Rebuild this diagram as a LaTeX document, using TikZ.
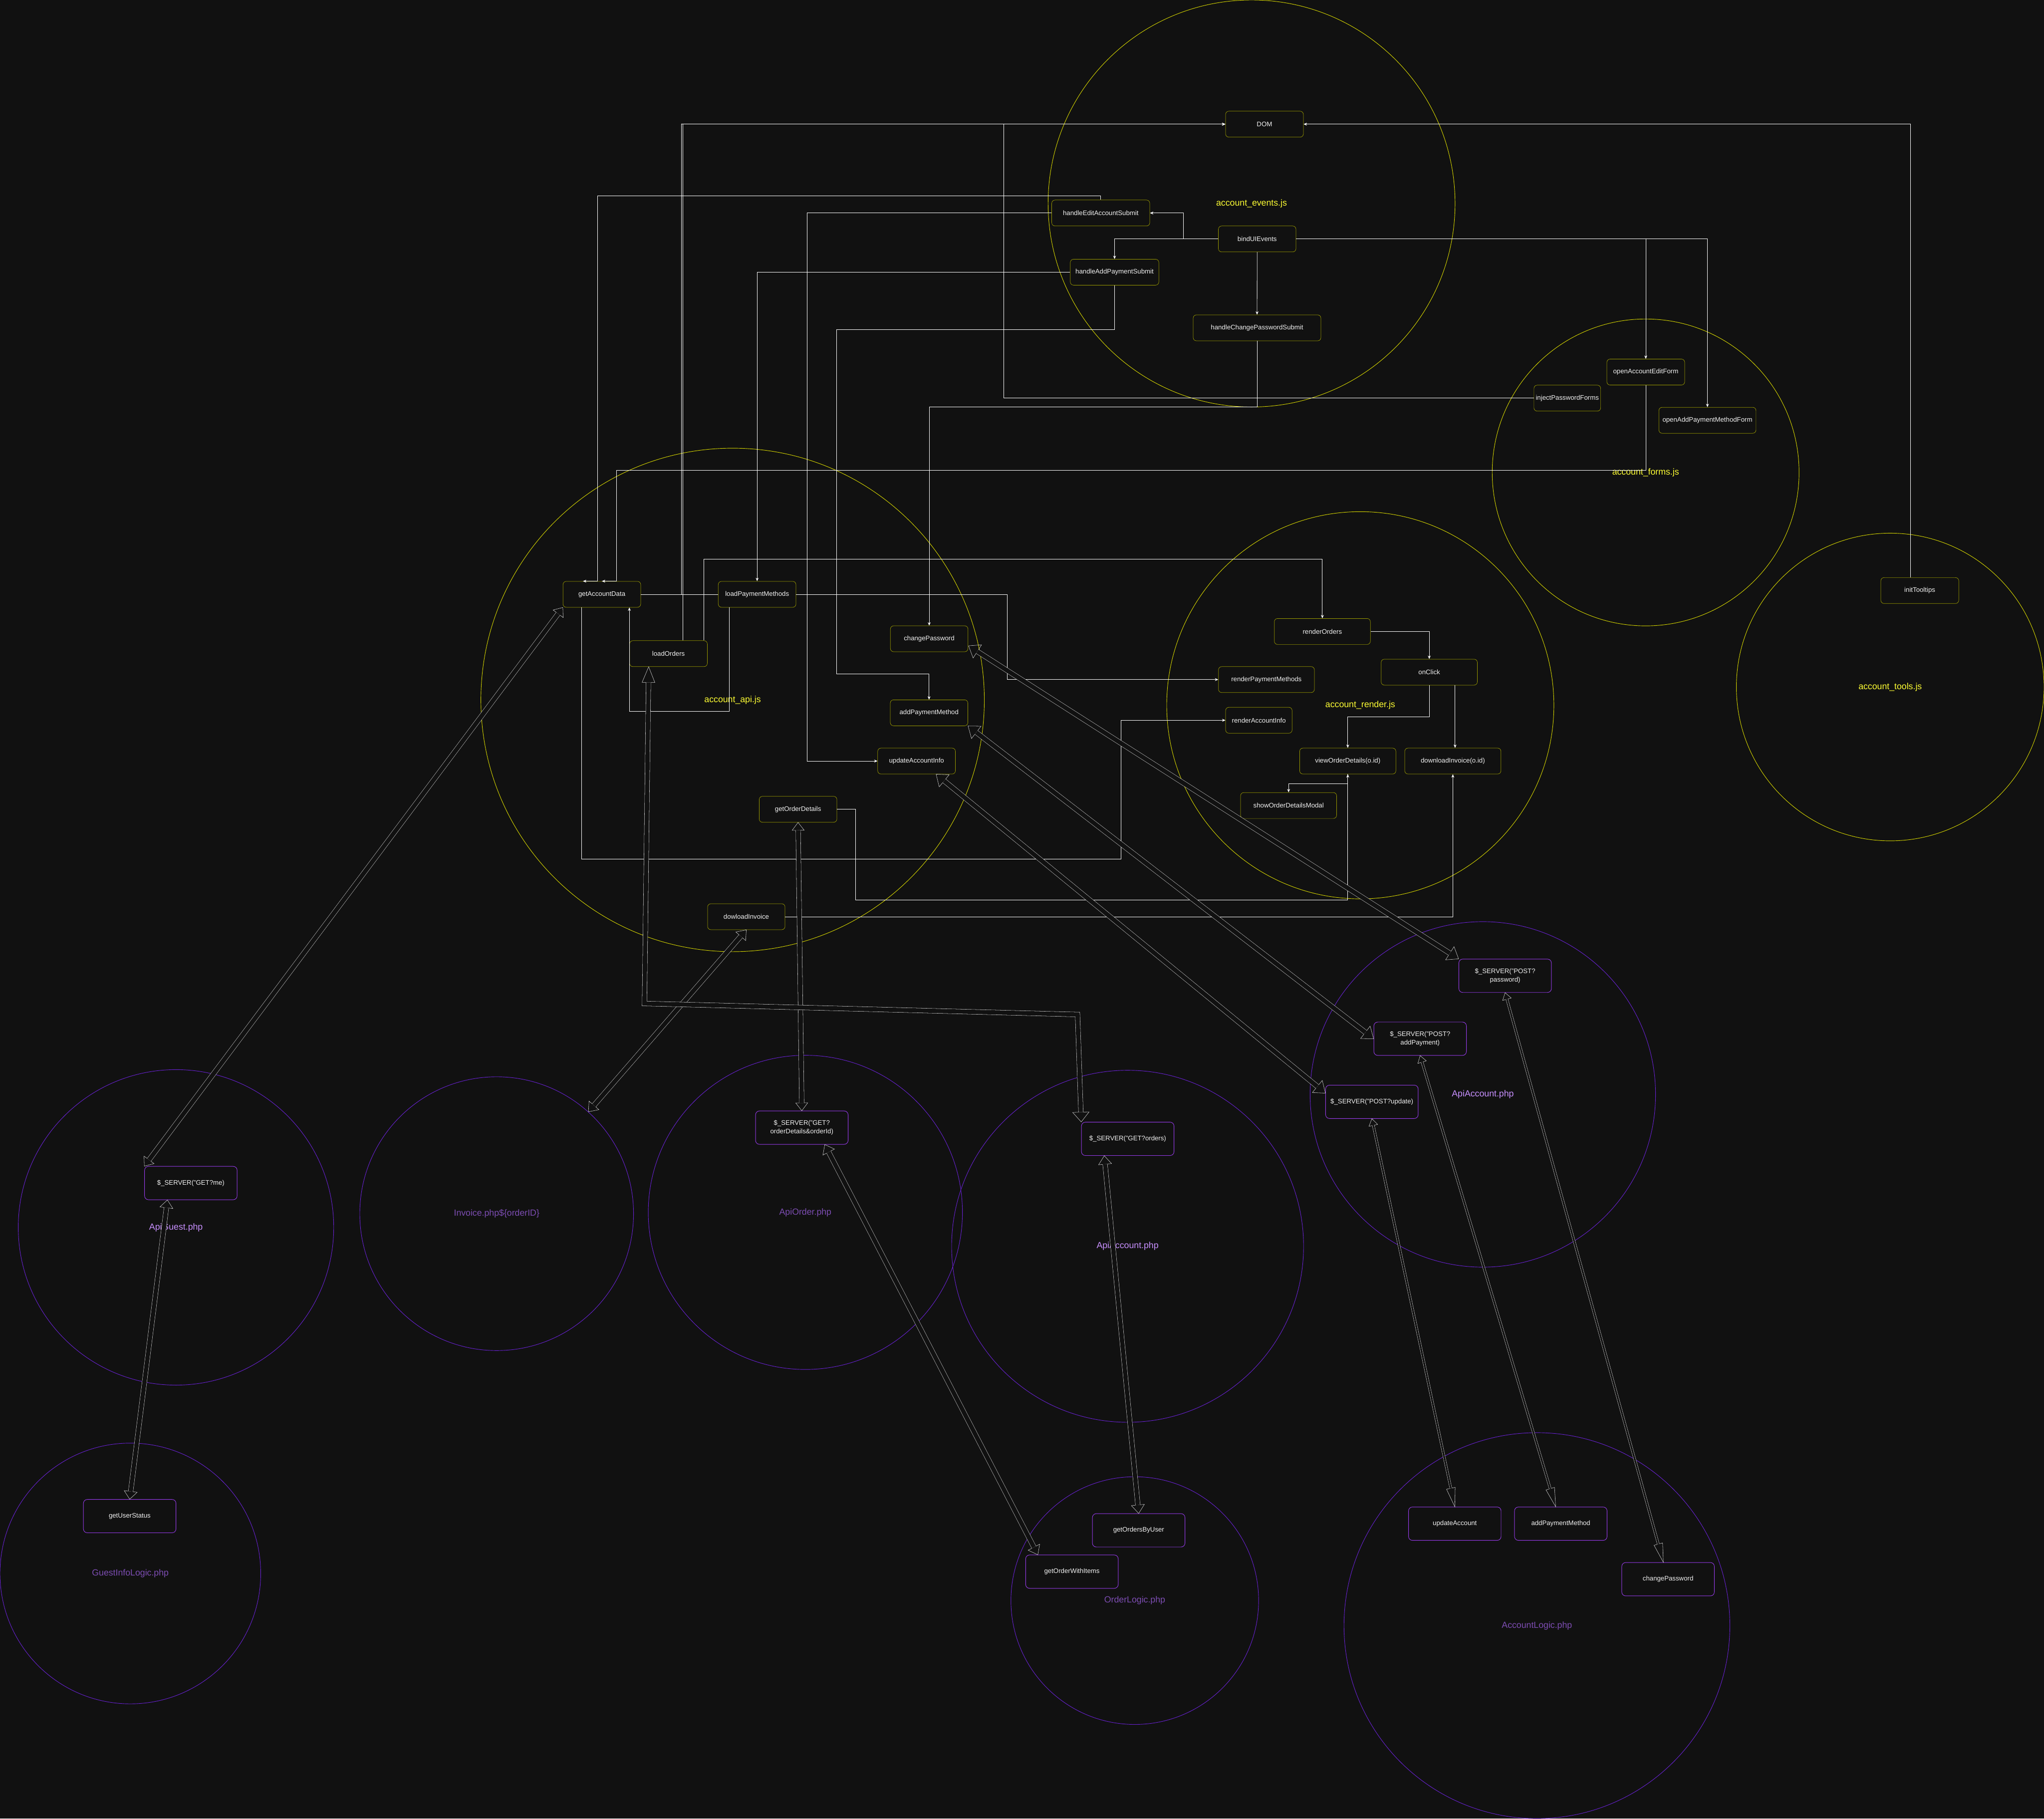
\documentclass[tikz,border=0pt]{standalone}
\usepackage{fontspec}
\setmainfont{Liberation Sans}
\usetikzlibrary{calc,arrows.meta}

\definecolor{bgc}{HTML}{111111}
\definecolor{txt}{HTML}{F2F2F2}
\definecolor{jsedge}{HTML}{9C9C00}
\definecolor{jsline}{HTML}{D8D800}
\definecolor{jslbl}{HTML}{FFFF33}
\definecolor{phpline}{HTML}{6A22D6}
\definecolor{phpedge}{HTML}{9A3CF0}
\definecolor{phplbl}{HTML}{C890FF}
\definecolor{phpdim}{HTML}{7D4DB3}
\definecolor{flexc}{HTML}{E6E6E6}

\newcommand{\boxfont}{\fontsize{14.4}{18}\selectfont}
\newcommand{\ringfont}{\fontsize{19.3}{23}\selectfont}

\tikzset{
  jsbox/.style={draw=jsedge,fill=bgc,line width=0.8pt,rounded corners=2.5mm,
    minimum height=19.9mm,inner sep=0pt,text=txt,font=\boxfont},
  phpbox/.style={draw=phpedge,fill=bgc,line width=1pt,rounded corners=3mm,
    minimum width=71mm,minimum height=25.6mm,inner sep=0pt,text=txt,
    font=\boxfont,align=center},
  jsring/.style={circle,draw=jsline,line width=1pt,inner sep=0pt,text=jslbl,font=\ringfont},
  phpring/.style={circle,draw=phpline,line width=1pt,inner sep=0pt,text=phplbl,font=\ringfont},
  phpdimring/.style={phpring,text=phpdim},
  conn/.style={draw=white,line width=0.9pt,->},
  wire/.style={draw=white,line width=0.9pt},
  flexline/.style={draw=flexc,line width=0.6pt,line join=miter},
}

% hollow head: tip, toward, shaft half, head half, head length
\newcommand{\flexhead}[5]{%
  \draw[flexline] ($(#1)!#5!(#2)!#3!90:(#2)$) -- ($(#1)!#5!(#2)!#4!90:(#2)$)
    -- (#1) -- ($(#1)!#5!(#2)!#4!-90:(#2)$) -- ($(#1)!#5!(#2)!#3!-90:(#2)$);}
% two-headed hollow arrow: from, to, gap, shaft half, head half, length at from, length at to
\newcommand{\flexarrow}[7]{%
  \draw[flexline,double=bgc,double distance=#3] ($(#1)!#6!(#2)$) -- ($(#2)!#7!(#1)$);
  \flexhead{#1}{#2}{#4}{#5}{#6}
  \flexhead{#2}{#1}{#4}{#5}{#7}}

\begin{document}
\begin{tikzpicture}[x=1mm,y=-1mm,>={Stealth[length=2.6mm,width=2.2mm]}]
  \useasboundingbox (0,0) rectangle (1568,1395);
  \fill[bgc] (0,0) rectangle (1568,1395);
  %
  % Script files
  \node[jsring,minimum size=312.2mm] (evring) at (960.1,156.1) {account\_events.js};
  \node[jsring,minimum size=235.4mm] (fmring) at (1262.4,362.4) {account\_forms.js};
  \node[jsring,minimum size=386.2mm] (apiring) at (562,536.9) {account\_api.js};
  \node[jsring,minimum size=297mm] (rdring) at (1043.5,541) {account\_render.js};
  \node[jsring,minimum size=236mm] (tlring) at (1450,527) {account\_tools.js};
  %
  % PHP files
  \node[phpring,minimum size=242mm] (guestring) at (135,941.5) {ApiGuest.php};
  \node[phpdimring,minimum size=210mm] (invring) at (381,931) {Invoice.php\$\{orderID\}};
  \node[phpdimring,minimum size=241mm] (ordring) at (617.8,930) {ApiOrder.php};
  \node[phpring,minimum size=270mm] (accring) at (865,956) {ApiAccount.php};
  \node[phpring,minimum size=265mm] (acctwo) at (1137.5,839.5) {ApiAccount.php};
  \node[phpdimring,minimum size=200mm] (gilring) at (100,1207) {GuestInfoLogic.php};
  \node[phpdimring,minimum size=190mm] (olring) at (870.5,1227.8) {OrderLogic.php};
  \node[phpdimring,minimum size=296mm] (alring) at (1179,1247) {AccountLogic.php};
  %
  % Events and forms
  \node[jsbox,minimum width=59.7mm] (dom) at (970,95.25) {DOM};
  \node[jsbox,minimum width=75.2mm] (hEdit) at (844.4,163.4) {handleEditAccountSubmit};
  \node[jsbox,minimum width=59.5mm] (bui) at (964.4,183.3) {bindUIEvents};
  \node[jsbox,minimum width=67.9mm] (hAdd) at (855,208.8) {handleAddPaymentSubmit};
  \node[jsbox,minimum width=98mm] (hcps) at (964.3,251.5) {handleChangePasswordSubmit};
  \node[jsbox,minimum width=59.7mm] (oaef) at (1262.5,285.4) {openAccountEditForm};
  \node[jsbox,minimum width=51.2mm] (ipf) at (1202.3,305.4) {injectPasswordForms};
  \node[jsbox,minimum width=74.5mm] (oapf) at (1309.8,322.4) {openAddPaymentMethodForm};
  \node[jsbox,minimum width=59.8mm] (it) at (1472.7,453) {initTooltips};
  %
  % Api calls
  \node[jsbox,minimum width=59.6mm] (gad) at (461.7,455.9) {getAccountData};
  \node[jsbox,minimum width=59.6mm] (lpm) at (580.8,455.9) {loadPaymentMethods};
  \node[jsbox,minimum width=59.6mm] (lo) at (512.8,501.4) {loadOrders};
  \node[jsbox,minimum width=59.5mm] (cp) at (712.8,490) {changePassword};
  \node[jsbox,minimum width=59.5mm] (apm) at (712.7,546.8) {addPaymentMethod};
  \node[jsbox,minimum width=59.6mm] (uai) at (703.1,583.8) {updateAccountInfo};
  \node[jsbox,minimum width=59.6mm] (god) at (612.2,620.8) {getOrderDetails};
  \node[jsbox,minimum width=59.4mm] (dli) at (572.5,703.2) {dowloadInvoice};
  %
  % Rendering
  \node[jsbox,minimum width=73.7mm] (ro) at (1014.4,484.4) {renderOrders};
  \node[jsbox,minimum width=73.6mm] (rpm) at (971.5,521.3) {renderPaymentMethods};
  \node[jsbox,minimum width=51mm] (rai) at (965.7,552.5) {renderAccountInfo};
  \node[jsbox,minimum width=73.8mm] (oc) at (1096.4,515.6) {onClick};
  \node[jsbox,minimum width=73.8mm] (vod) at (1033.9,583.8) {viewOrderDetails(o.id)};
  \node[jsbox,minimum width=73.8mm] (dlio) at (1114.5,583.8) {downloadInvoice(o.id)};
  \node[jsbox,minimum width=73.7mm] (sodm) at (988.5,617.9) {showOrderDetailsModal};
  %
  % Endpoints and logic
  \node[phpbox] (gm) at (146.4,907.5) {\$\_SERVER("GET?me)};
  \node[phpbox] (gus) at (99.5,1163) {getUserStatus};
  \node[phpbox] (ged) at (615.1,865) {\$\_SERVER("GET?\\orderDetails\&orderId)};
  \node[phpbox] (go) at (865.1,873.6) {\$\_SERVER("GET?orders)};
  \node[phpbox] (gobu) at (873.5,1173.9) {getOrdersByUser};
  \node[phpbox] (gowi) at (822.3,1205.6) {getOrderWithItems};
  \node[phpbox] (pp) at (1154.6,748.5) {\$\_SERVER("POST?\\password)};
  \node[phpbox] (pa) at (1089.4,796.8) {\$\_SERVER("POST?\\addPayment)};
  \node[phpbox] (pu) at (1052.4,845.2) {\$\_SERVER("POST?update)};
  \node[phpbox] (ua) at (1116,1168.8) {updateAccount};
  \node[phpbox] (alm) at (1197.3,1168.8) {addPaymentMethod};
  \node[phpbox] (lcp) at (1279.6,1211.4) {changePassword};
  %
  % Event wiring
  \draw[conn] (bui.west) -- ++(-26.7,0) |- (hEdit.east);
  \draw[conn] (bui.west) -| (hAdd.north);
  \draw[conn] (bui.south) -- (hcps.north);
  \draw[conn] (bui.east) -| (oaef.north);
  \draw[conn] (bui.east) -| (oapf.north);
  \draw[conn] (hEdit.north) |- (458.3,150.4) |- ($(gad.north)+(-14.5,0)$);
  \draw[conn] (hEdit.west) -| ($(uai.west)+(-54,0)$) -- (uai.west);
  \draw[conn] (hAdd.west) -| (lpm.north);
  \draw[conn] (hAdd.south) |- (641.8,252.9) |- ($(apm.north)+(0,-19.7)$) -- (apm.north);
  \draw[conn] (hcps.south) |- ($(cp.north)+(0,-167.6)$) -- (cp.north);
  \draw[conn] (oaef.south) |- ($(gad.north)+(11.4,-85.2)$) |- (gad.north);
  \draw[conn] (ipf.west) -| ($(dom.west)+(-170,0)$) -- (dom.west);
  \draw[conn] ($(it.north)+(-7.1,0)$) |- (dom.east);
  %
  % Api wiring
  \draw[wire] (gad.east) -- (lpm.west);
  \draw[conn] (gad.east) -| ($(dom.west)+(-417.5,0)$) -- (dom.west);
  \draw[conn] ($(lo.north)+(11.2,0)$) |- (dom.west);
  \draw[conn] ($(lo.north)+(27,0)$) |- ($(ro.north)+(0,-45.4)$) -- (ro.north);
  \draw[conn] (lpm.east) -| ($(rpm.west)+(-162,0)$) -- (rpm.west);
  \draw[conn] ($(lpm.south)+(-21.2,0)$) |- ($(gad.south)+(21.1,79.6)$) -- ($(gad.south)+(21.1,0)$);
  \draw[conn] ($(gad.south)+(-15.7,0)$) |- ($(rai.west)+(-80.2,106.3)$) |- (rai.west);
  \draw[conn] (god.east) -| ($(vod.south)+(-377.8,96.5)$) -| (vod.south);
  \draw[conn] (dli.east) -| (dlio.south);
  %
  % Render wiring
  \draw[conn] (ro.east) -| (oc.north);
  \draw[conn] (oc.south) -- ++(0,24.1) -| (vod.north);
  \draw[conn] ($(oc.south)+(19.8,0)$) -- ($(dlio.north)+(1.7,0)$);
  \draw[conn] (vod.south) -- ++(0,7.1) -| (sodm.north);
  %
  % Requests to the server
  \coordinate (gmB) at ($(gm.south)+(-18,0)$);
  \coordinate (gedB) at ($(ged.south)+(17.6,0)$);
  \coordinate (gowiT) at ($(gowi.north west)+(9.5,0)$);
  \coordinate (goB) at ($(go.south)+(-18,0)$);
  \coordinate (cpE) at ($(cp.east)+(0.3,5.4)$);
  \coordinate (uaiB) at ($(uai.south)+(15,0)$);
  \coordinate (puW) at ($(pu.north west)+(0,6.3)$);
  \coordinate (almT) at ($(alm.north)+(-3.9,0)$);
  \coordinate (lcpT) at ($(lcp.north)+(-3.6,0)$);
  \flexarrow{gad.south west}{gm.north west}{3.4mm}{1.9mm}{4.8mm}{6mm}{6mm}
  \flexarrow{gmB}{gus.north}{3.4mm}{1.9mm}{5mm}{6mm}{6mm}
  \flexarrow{dli.south}{invring.48}{3.4mm}{1.9mm}{5mm}{6.5mm}{6.5mm}
  \flexarrow{god.south}{ged.north}{3.4mm}{1.9mm}{4.6mm}{6mm}{6mm}
  \flexarrow{gedB}{gowiT}{3.4mm}{1.9mm}{5mm}{6.5mm}{6.5mm}
  \flexarrow{goB}{gobu.north}{3.4mm}{1.9mm}{5mm}{6.5mm}{6.5mm}
  \flexarrow{cpE}{pp.north west}{3.4mm}{1.9mm}{6mm}{8mm}{8mm}
  \flexarrow{apm.south east}{pa.west}{3.4mm}{1.9mm}{6mm}{8mm}{8mm}
  \flexarrow{uaiB}{puW}{3.4mm}{1.9mm}{6mm}{8mm}{8mm}
  \flexarrow{pu.south}{ua.north}{1.4mm}{0.9mm}{3.4mm}{5.2mm}{14.5mm}
  \flexarrow{pa.south}{almT}{1.4mm}{0.9mm}{3.4mm}{5.2mm}{14.5mm}
  \flexarrow{pp.south}{lcpT}{1.4mm}{0.9mm}{3.4mm}{5.2mm}{14.5mm}
  %
  % Orders request, routed round
  \coordinate (loT) at ($(lo.south)+(-15.2,0)$);
  \coordinate (loK1) at (494.4,769.8);
  \coordinate (loK2) at (826.6,778.2);
  \coordinate (goT) at (go.north west);
  \draw[flexline,double=bgc,double distance=3.4mm]
    ($(loT)!12mm!(loK1)$) -- (loK1) -- (loK2) -- ($(goT)!7.5mm!(loK2)$);
  \flexhead{loT}{loK1}{1.9mm}{4.9mm}{12mm}
  \flexhead{goT}{loK2}{1.9mm}{6.3mm}{7.5mm}
  %
\end{tikzpicture}
\end{document}
